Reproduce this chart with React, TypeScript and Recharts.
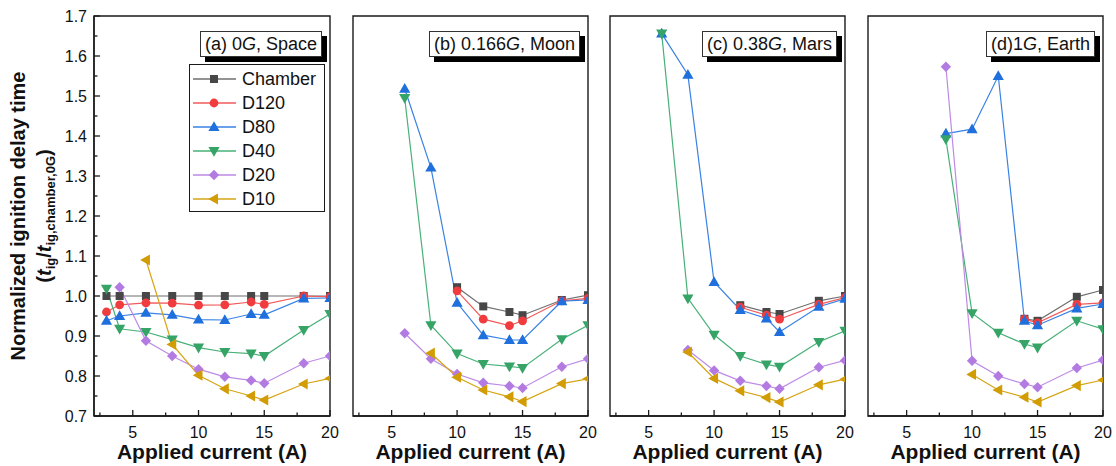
import React from 'react'
import { LineChart, Line, XAxis, YAxis, Legend, ReferenceArea } from 'recharts'

const FONT = '"Liberation Sans", Arial, Helvetica, sans-serif'

// applied current (A) sampled in every panel
const CURRENT = [3, 4, 6, 8, 10, 12, 14, 15, 18, 20]
const X_TICKS = [2.5, 5, 7.5, 10, 12.5, 15, 17.5, 20]
const Y_TICKS = [0.7, 0.75, 0.8, 0.85, 0.9, 0.95, 1.0, 1.05, 1.1, 1.15, 1.2, 1.25, 1.3, 1.35, 1.4, 1.45, 1.5, 1.55, 1.6, 1.65, 1.7]
const SERIES_NAMES = ['Chamber', 'D120', 'D80', 'D40', 'D20', 'D10']

type Vals = (number | null)[]
const n = null

const SPACE: Record<string, Vals> = {
  Chamber: [1.0, 1.0, 1.0, 1.0, 1.0, 1.0, 1.0, 1.0, 1.0, 1.0],
  D120: [0.96, 0.978, 0.983, 0.982, 0.977, 0.978, 0.985, 0.979, 1.0, 0.998],
  D80: [0.938, 0.95, 0.958, 0.953, 0.941, 0.94, 0.955, 0.953, 0.994, 0.995],
  D40: [1.018, 0.918, 0.91, 0.891, 0.871, 0.86, 0.856, 0.85, 0.915, 0.955],
  D20: [n, 1.022, 0.888, 0.85, 0.817, 0.798, 0.789, 0.782, 0.832, 0.85],
  D10: [n, n, 1.09, 0.879, 0.802, 0.768, 0.75, 0.74, 0.78, 0.794],
}

const MOON: Record<string, Vals> = {
  Chamber: [n, n, n, n, 1.022, 0.974, 0.96, 0.952, 0.99, 1.002],
  D120: [n, n, n, n, 1.013, 0.942, 0.926, 0.938, 0.988, 0.994],
  D80: [n, n, 1.518, 1.321, 0.983, 0.902, 0.89, 0.89, 0.987, 0.99],
  D40: [n, n, 1.495, 0.927, 0.856, 0.83, 0.824, 0.82, 0.892, 0.927],
  D20: [n, n, 0.907, 0.843, 0.805, 0.783, 0.775, 0.77, 0.823, 0.843],
  D10: [n, n, n, 0.857, 0.797, 0.765, 0.748, 0.736, 0.781, 0.793],
}

const MARS: Record<string, Vals> = {
  Chamber: [n, n, n, n, n, 0.977, 0.96, 0.955, 0.988, 1.0],
  D120: [n, n, n, n, n, 0.972, 0.952, 0.942, 0.979, 0.996],
  D80: [n, n, 1.656, 1.553, 1.035, 0.965, 0.944, 0.91, 0.973, 0.993],
  D40: [n, n, 1.656, 0.994, 0.903, 0.85, 0.829, 0.823, 0.885, 0.913],
  D20: [n, n, n, 0.865, 0.814, 0.788, 0.775, 0.768, 0.822, 0.839],
  D10: [n, n, n, 0.86, 0.794, 0.763, 0.746, 0.735, 0.778, 0.792],
}

const EARTH: Record<string, Vals> = {
  Chamber: [n, n, n, n, n, n, 0.943, 0.938, 0.998, 1.015],
  D120: [n, n, n, n, n, n, 0.942, 0.933, 0.979, 0.983],
  D80: [n, n, n, 1.406, 1.417, 1.55, 0.938, 0.927, 0.969, 0.98],
  D40: [n, n, n, 1.392, 0.957, 0.908, 0.88, 0.871, 0.938, 0.917],
  D20: [n, n, n, 1.573, 0.838, 0.8, 0.78, 0.772, 0.82, 0.84],
  D10: [n, n, n, n, 0.804, 0.765, 0.747, 0.735, 0.776, 0.79],
}

const STYLE: Record<string, { line: string; fill: string; shape: string }> = {
  Chamber: { line: '#6f6f6f', fill: '#474747', shape: 'square' },
  D120: { line: '#f25a5a', fill: '#f03c3f', shape: 'circle' },
  D80: { line: '#3a82e4', fill: '#1f6fdc', shape: 'up' },
  D40: { line: '#48b078', fill: '#35a466', shape: 'down' },
  D20: { line: '#bd8ae6', fill: '#b37be2', shape: 'diamond' },
  D10: { line: '#d6a413', fill: '#d29c05', shape: 'left' },
}

const PANELS = [
  { key: 'a', vals: SPACE, pre: '(a) 0', post: ', Space', plotLeft: 94, plotWidth: 236 },
  { key: 'b', vals: MOON, pre: '(b) 0.166', post: ', Moon', plotLeft: 353, plotWidth: 235 },
  { key: 'c', vals: MARS, pre: '(c) 0.38', post: ', Mars', plotLeft: 610, plotWidth: 235 },
  { key: 'd', vals: EARTH, pre: '(d)1', post: ', Earth', plotLeft: 868, plotWidth: 235 },
]

const X_DOMAIN: [number, number] = [2.05, 20]
const Y_DOMAIN: [number, number] = [0.7, 1.7]
const AXIS = '#1a1a1a'

function Marker({ shape, cx, cy, fill }: { shape: string; cx: number; cy: number; fill: string }) {
  if (cx == null || cy == null || Number.isNaN(cy)) return <g />
  switch (shape) {
    case 'square':
      return <rect x={cx - 4} y={cy - 4} width={8} height={8} fill={fill} />
    case 'circle':
      return <circle cx={cx} cy={cy} r={4.4} fill={fill} />
    case 'up':
      return <polygon points={`${cx},${cy - 5.8} ${cx + 5.6},${cy + 4} ${cx - 5.6},${cy + 4}`} fill={fill} />
    case 'down':
      return <polygon points={`${cx - 5.6},${cy - 4} ${cx + 5.6},${cy - 4} ${cx},${cy + 5.8}`} fill={fill} />
    case 'diamond':
      return <polygon points={`${cx},${cy - 5.2} ${cx + 5.2},${cy} ${cx},${cy + 5.2} ${cx - 5.2},${cy}`} fill={fill} />
    default:
      return <polygon points={`${cx - 5.8},${cy} ${cx + 4},${cy - 5.6} ${cx + 4},${cy + 5.6}`} fill={fill} />
  }
}

function XTick(props: any) {
  const { x, y, payload } = props
  const v = payload.value
  const major = v % 5 === 0
  return (
    <g>
      <line x1={x} x2={x} y1={y} y2={y - (major ? 6 : 3.5)} stroke={AXIS} strokeWidth={1.3} />
      {major && (
        <text x={x} y={y + 22} textAnchor="middle" fontSize={16} fill="#111" fontFamily={FONT}>{v}</text>
      )}
    </g>
  )
}

function makeYTick(showLabel: boolean) {
  return (props: any) => {
    const { x, y, payload } = props
    const v = payload.value
    const major = Math.round(v * 100) % 10 === 0
    return (
      <g>
        <line x1={x} x2={x + (major ? 6 : 3.5)} y1={y} y2={y} stroke={AXIS} strokeWidth={1.3} />
        {showLabel && major && (
          <text x={x - 7} y={y} dy={5.6} textAnchor="end" fontSize={16} fill="#111" fontFamily={FONT}>{v.toFixed(1)}</text>
        )}
      </g>
    )
  }
}

function YTitle(props: any) {
  const vb = props.viewBox ?? { x: 0, y: 16, width: 94, height: 400 }
  const cy = vb.y + vb.height / 2
  return (
    <g fontFamily={FONT} fontWeight="bold" fill="#111">
      <text transform={`translate(25, ${cy}) rotate(-90)`} textAnchor="middle" fontSize={20}>
        Normalized ignition delay time
      </text>
      <text transform={`translate(51, ${cy}) rotate(-90)`} textAnchor="middle" fontSize={20}>
        (<tspan fontStyle="italic">t</tspan>
        <tspan fontSize={13} dy={4}>ig</tspan>
        <tspan dy={-4}>/</tspan>
        <tspan fontStyle="italic">t</tspan>
        <tspan fontSize={13} dy={4}>ig,chamber,0G</tspan>
        <tspan dy={-4}>)</tspan>
      </text>
    </g>
  )
}

// legend keeps the series order of the original figure
function LegendBox() {
  return (
    <div style={{
      border: `1.3px solid ${AXIS}`, background: '#fff', width: 136, height: 148,
      boxSizing: 'border-box', padding: '2px 0 0 3px', fontFamily: FONT,
    }}>
      {SERIES_NAMES.map((name) => (
        <div key={name} style={{ display: 'flex', alignItems: 'center', height: 24 }}>
          <svg width={44} height={24} style={{ display: 'block' }}>
            <line x1={0} x2={43} y1={12} y2={12} stroke={STYLE[name].line} strokeWidth={1.3} />
            <Marker shape={STYLE[name].shape} cx={21} cy={12} fill={STYLE[name].fill} />
          </svg>
          <span style={{ fontSize: 18, marginLeft: 5, color: '#111', lineHeight: '24px' }}>{name}</span>
        </div>
      ))}
    </div>
  )
}

function Panel({ panel, first }: { panel: typeof PANELS[number]; first: boolean }) {
  const padLeft = first ? 94 : 20
  const width = padLeft + panel.plotWidth + 10
  const data = CURRENT.map((x, i) => {
    const row: Record<string, number | null> = { x }
    SERIES_NAMES.forEach((s) => { row[s] = panel.vals[s][i] })
    return row
  })

  return (
    <div style={{ position: 'absolute', left: panel.plotLeft - padLeft, top: 0, width, height: 466 }}>
      <LineChart width={width} height={466} data={data}
        margin={{ top: 16, right: 10, bottom: 0, left: first ? 0 : padLeft }}>
        <XAxis dataKey="x" type="number" domain={X_DOMAIN} ticks={X_TICKS} interval={0}
          allowDataOverflow height={50} tickSize={0} tickMargin={0} tickLine={false}
          axisLine={{ stroke: AXIS, strokeWidth: 1.4 }} tick={XTick}
          label={{ value: 'Applied current (A)', position: 'insideBottom', offset: 7, fontSize: 21, fontWeight: 'bold', fill: '#111', fontFamily: FONT }} />
        <YAxis type="number" domain={Y_DOMAIN} ticks={Y_TICKS} interval={0} allowDataOverflow
          width={first ? 94 : 0} tickSize={0} tickMargin={0} tickLine={false}
          axisLine={{ stroke: AXIS, strokeWidth: 1.4 }} tick={makeYTick(first)}
          label={first ? <YTitle /> : undefined} />
        {/* plot frame (top and right edges) */}
        <ReferenceArea x1={X_DOMAIN[0]} x2={X_DOMAIN[1]} y1={Y_DOMAIN[0]} y2={Y_DOMAIN[1]}
          fill="none" fillOpacity={0} stroke={AXIS} strokeWidth={1.4} ifOverflow="visible" />
        {SERIES_NAMES.map((s) => (
          <Line key={s} dataKey={s} name={s} stroke={STYLE[s].line} strokeWidth={1.2}
            isAnimationActive={false} connectNulls={false}
            dot={(p: any) => <Marker key={`${s}-${p.index}`} shape={STYLE[s].shape} cx={p.cx} cy={p.cy} fill={STYLE[s].fill} />}
            activeDot={false} />
        ))}
        {first && (
          <Legend layout="vertical" align="center" verticalAlign="middle"
            content={() => <LegendBox />}
            wrapperStyle={{ left: 189, top: 64, width: 136, height: 148 }} />
        )}
      </LineChart>
      <div style={{
        position: 'absolute', right: 18, top: 31, border: '1px solid #333', background: '#fff',
        boxShadow: '5px 5px 0 #000', fontSize: 18, padding: '0 4px', lineHeight: '24px',
        fontFamily: FONT, color: '#111', whiteSpace: 'nowrap',
      }}>
        {panel.pre}<i>G</i>{panel.post}
      </div>
    </div>
  )
}

export default function App() {
  return (
    <div style={{ position: 'absolute', left: 0, top: 0, width: 1116, height: 466, background: '#fff' }}>
      {PANELS.map((p, i) => <Panel key={p.key} panel={p} first={i === 0} />)}
    </div>
  )
}
